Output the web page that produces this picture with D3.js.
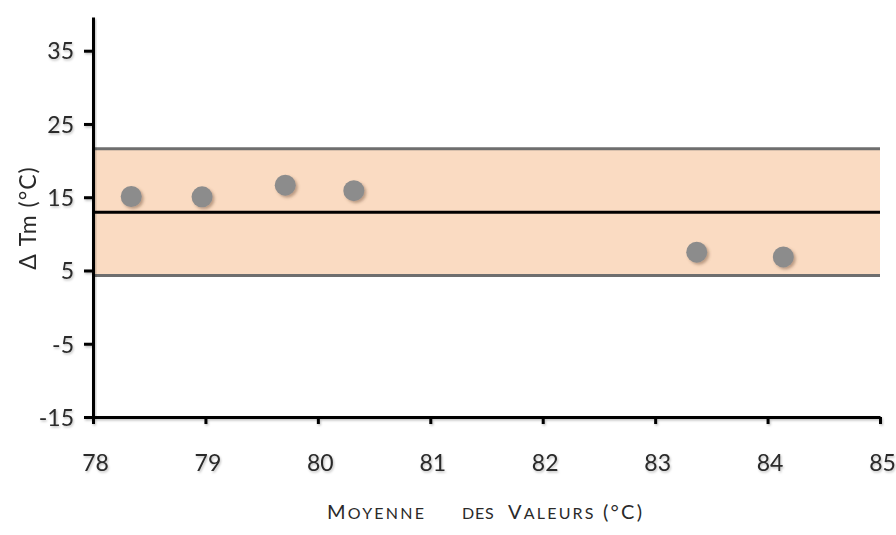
<!DOCTYPE html>
<html>
<head>
<meta charset="utf-8">
<script src="https://cdn.jsdelivr.net/npm/d3@7/dist/d3.min.js"></script>
<style>
  html, body { margin: 0; padding: 0; background: #fff; }
  svg { display: block; font-family: Lato, "Open Sans", sans-serif; }
</style>
</head>
<body>
<svg id="chart" width="896" height="535"></svg>
<script>
// Data
const meanValues = [78.34, 78.97, 79.71, 80.32, 83.37, 84.14];
const deltaTm = [15.1, 15.05, 16.65, 15.9, 7.5, 6.85];
const meanDiff = [12.95];
const limits = [4.3, 21.6];
const xTicks = [78, 79, 80, 81, 82, 83, 84, 85];
const yTicks = [-15, -5, 5, 15, 25, 35];
const xDomain = [78, 85];
const yDomain = [-15, 39.6];

const svg = d3.select("#chart");
const W = 896, H = 535;
const m = { left: 93, right: 16, top: 17, bottom: 118 };

const x = d3.scaleLinear().domain(xDomain).range([m.left, W - m.right]);
const y = d3.scaleLinear().domain(yDomain).range([H - m.bottom, m.top]);

const defs = svg.append("defs");
const f = defs.append("filter").attr("id", "shadow").attr("x", "-50%").attr("y", "-50%").attr("width", "200%").attr("height", "200%");
f.append("feDropShadow").attr("dx", 2).attr("dy", 2).attr("stdDeviation", 1.6)
  .attr("flood-color", "#6b4a30").attr("flood-opacity", 0.45);
const f2 = defs.append("filter").attr("id", "lshadow").attr("x", "-5%").attr("y", "-50%").attr("width", "110%").attr("height", "200%");
f2.append("feDropShadow").attr("dx", 1).attr("dy", 1.5).attr("stdDeviation", 1)
  .attr("flood-color", "#000").attr("flood-opacity", 0.25);

// Band
svg.append("rect")
  .attr("x", x(xDomain[0]))
  .attr("y", y(limits[1]))
  .attr("width", x(xDomain[1]) - x(xDomain[0]))
  .attr("height", y(limits[0]) - y(limits[1]))
  .attr("fill", "#fadbc2");

// Limit lines
svg.selectAll(".lim").data(limits).join("line")
  .attr("x1", x(xDomain[0])).attr("x2", x(xDomain[1]))
  .attr("y1", d => y(d)).attr("y2", d => y(d))
  .attr("stroke", "#6e6e6e").attr("stroke-width", 3);

// Mean line
svg.selectAll(".mean").data(meanDiff).join("line")
  .attr("x1", x(xDomain[0])).attr("x2", x(xDomain[1]))
  .attr("y1", d => y(d)).attr("y2", d => y(d))
  .attr("stroke", "#000").attr("stroke-width", 3);

// Points
svg.selectAll(".pt").data(meanValues.map((v, i) => [v, deltaTm[i]])).join("circle")
  .attr("cx", d => x(d[0])).attr("cy", d => y(d[1])).attr("r", 10.5)
  .attr("fill", "#8c8c8c").attr("filter", "url(#shadow)");

// Axes
const fmt = d => String(d);
const yAxis = svg.append("g")
  .attr("transform", `translate(${m.left},0)`)
  .attr("filter", "url(#lshadow)")
  .call(d3.axisLeft(y).tickValues(yTicks).tickFormat(fmt).tickSize(9).tickPadding(10).tickSizeOuter(0));
const xAxis = svg.append("g")
  .attr("transform", `translate(0,${H - m.bottom})`)
  .attr("filter", "url(#lshadow)")
  .call(d3.axisBottom(x).tickValues(xTicks).tickFormat(fmt).tickSize(7).tickPadding(31).tickSizeOuter(0));

[yAxis, xAxis].forEach(g => {
  g.select(".domain").attr("stroke", "#000").attr("stroke-width", 3);
  g.selectAll(".tick line").attr("stroke", "#000").attr("stroke-width", 3);
  g.selectAll(".tick text").attr("fill", "#2a2a2a").attr("font-size", 23)
    .attr("font-family", "Lato, sans-serif");
});
yAxis.selectAll(".tick text").attr("dy", "0.36em");
xAxis.selectAll(".tick text").attr("dx", 2);

// Y title
svg.append("text")
  .attr("transform", `translate(36,${(y(yDomain[0]) + y(yDomain[1])) / 2 + 1}) rotate(-90)`)
  .attr("text-anchor", "middle")
  .attr("font-size", 23).attr("fill", "#2a2a2a")
  .attr("letter-spacing", 1)
  .text("\u0394 Tm (\u00B0C)");

// X title with small caps, three words
const words = [
  { x: 327, ls: 2.2, parts: [["M", 20], ["OYENNE", 16]] },
  { x: 462, ls: 0.8, parts: [["DES", 16]] },
  { x: 508, ls: 2.2, parts: [["V", 20], ["ALEURS", 16], [" (\u00B0C)", 20]] }
];
words.forEach(w => {
  const t = svg.append("text")
    .attr("x", w.x).attr("y", 519)
    .attr("fill", "#2a2a2a")
    .attr("letter-spacing", w.ls);
  w.parts.forEach(p => t.append("tspan").attr("font-size", p[1]).text(p[0]));
});
</script>
</body>
</html>
